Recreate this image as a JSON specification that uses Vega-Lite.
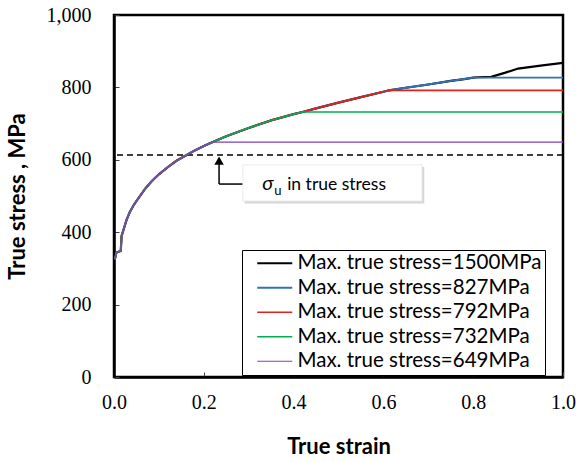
{
  "$schema": "https://vega.github.io/schema/vega-lite/v6.json",
  "width": 449,
  "height": 362,
  "autosize": {"type": "none"},
  "padding": {"left": 114, "top": 15, "right": 13, "bottom": 85},
  "background": "white",
  "datasets": {
    "curves": [
      {"series": "1500", "strain": 0.002, "stress": 325}, {"series": "1500", "strain": 0.005, "stress": 343}, {"series": "1500", "strain": 0.01, "stress": 346}, {"series": "1500", "strain": 0.015, "stress": 348}, {"series": "1500", "strain": 0.017, "stress": 390}, {"series": "1500", "strain": 0.022, "stress": 410}, {"series": "1500", "strain": 0.028, "stress": 434}, {"series": "1500", "strain": 0.035, "stress": 455}, {"series": "1500", "strain": 0.045, "stress": 477}, {"series": "1500", "strain": 0.055, "stress": 495}, {"series": "1500", "strain": 0.07, "stress": 521}, {"series": "1500", "strain": 0.085, "stress": 542}, {"series": "1500", "strain": 0.1, "stress": 560}, {"series": "1500", "strain": 0.12, "stress": 580}, {"series": "1500", "strain": 0.14, "stress": 598}, {"series": "1500", "strain": 0.16, "stress": 612}, {"series": "1500", "strain": 0.18, "stress": 626}, {"series": "1500", "strain": 0.2, "stress": 638}, {"series": "1500", "strain": 0.22, "stress": 649}, {"series": "1500", "strain": 0.25, "stress": 665}, {"series": "1500", "strain": 0.3, "stress": 688}, {"series": "1500", "strain": 0.35, "stress": 709}, {"series": "1500", "strain": 0.4, "stress": 726}, {"series": "1500", "strain": 0.42, "stress": 732}, {"series": "1500", "strain": 0.45, "stress": 742}, {"series": "1500", "strain": 0.5, "stress": 758}, {"series": "1500", "strain": 0.55, "stress": 773}, {"series": "1500", "strain": 0.6, "stress": 788}, {"series": "1500", "strain": 0.613, "stress": 792}, {"series": "1500", "strain": 0.65, "stress": 799}, {"series": "1500", "strain": 0.7, "stress": 808}, {"series": "1500", "strain": 0.75, "stress": 818}, {"series": "1500", "strain": 0.78, "stress": 823}, {"series": "1500", "strain": 0.8, "stress": 827}, {"series": "1500", "strain": 0.81, "stress": 828}, {"series": "1500", "strain": 0.84, "stress": 829}, {"series": "1500", "strain": 0.87, "stress": 840}, {"series": "1500", "strain": 0.9, "stress": 852}, {"series": "1500", "strain": 0.95, "stress": 860}, {"series": "1500", "strain": 1.0, "stress": 868},

      {"series": "827", "strain": 0.002, "stress": 325}, {"series": "827", "strain": 0.005, "stress": 343}, {"series": "827", "strain": 0.01, "stress": 346}, {"series": "827", "strain": 0.015, "stress": 348}, {"series": "827", "strain": 0.017, "stress": 390}, {"series": "827", "strain": 0.022, "stress": 410}, {"series": "827", "strain": 0.028, "stress": 434}, {"series": "827", "strain": 0.035, "stress": 455}, {"series": "827", "strain": 0.045, "stress": 477}, {"series": "827", "strain": 0.055, "stress": 495}, {"series": "827", "strain": 0.07, "stress": 521}, {"series": "827", "strain": 0.085, "stress": 542}, {"series": "827", "strain": 0.1, "stress": 560}, {"series": "827", "strain": 0.12, "stress": 580}, {"series": "827", "strain": 0.14, "stress": 598}, {"series": "827", "strain": 0.16, "stress": 612}, {"series": "827", "strain": 0.18, "stress": 626}, {"series": "827", "strain": 0.2, "stress": 638}, {"series": "827", "strain": 0.22, "stress": 649}, {"series": "827", "strain": 0.25, "stress": 665}, {"series": "827", "strain": 0.3, "stress": 688}, {"series": "827", "strain": 0.35, "stress": 709}, {"series": "827", "strain": 0.4, "stress": 726}, {"series": "827", "strain": 0.42, "stress": 732}, {"series": "827", "strain": 0.45, "stress": 742}, {"series": "827", "strain": 0.5, "stress": 758}, {"series": "827", "strain": 0.55, "stress": 773}, {"series": "827", "strain": 0.6, "stress": 788}, {"series": "827", "strain": 0.613, "stress": 792}, {"series": "827", "strain": 0.65, "stress": 799}, {"series": "827", "strain": 0.7, "stress": 808}, {"series": "827", "strain": 0.75, "stress": 818}, {"series": "827", "strain": 0.78, "stress": 823}, {"series": "827", "strain": 0.8, "stress": 827}, {"series": "827", "strain": 1.0, "stress": 827},

      {"series": "792", "strain": 0.002, "stress": 325}, {"series": "792", "strain": 0.005, "stress": 343}, {"series": "792", "strain": 0.01, "stress": 346}, {"series": "792", "strain": 0.015, "stress": 348}, {"series": "792", "strain": 0.017, "stress": 390}, {"series": "792", "strain": 0.022, "stress": 410}, {"series": "792", "strain": 0.028, "stress": 434}, {"series": "792", "strain": 0.035, "stress": 455}, {"series": "792", "strain": 0.045, "stress": 477}, {"series": "792", "strain": 0.055, "stress": 495}, {"series": "792", "strain": 0.07, "stress": 521}, {"series": "792", "strain": 0.085, "stress": 542}, {"series": "792", "strain": 0.1, "stress": 560}, {"series": "792", "strain": 0.12, "stress": 580}, {"series": "792", "strain": 0.14, "stress": 598}, {"series": "792", "strain": 0.16, "stress": 612}, {"series": "792", "strain": 0.18, "stress": 626}, {"series": "792", "strain": 0.2, "stress": 638}, {"series": "792", "strain": 0.22, "stress": 649}, {"series": "792", "strain": 0.25, "stress": 665}, {"series": "792", "strain": 0.3, "stress": 688}, {"series": "792", "strain": 0.35, "stress": 709}, {"series": "792", "strain": 0.4, "stress": 726}, {"series": "792", "strain": 0.42, "stress": 732}, {"series": "792", "strain": 0.45, "stress": 742}, {"series": "792", "strain": 0.5, "stress": 758}, {"series": "792", "strain": 0.55, "stress": 773}, {"series": "792", "strain": 0.6, "stress": 788}, {"series": "792", "strain": 0.613, "stress": 792}, {"series": "792", "strain": 1.0, "stress": 792},

      {"series": "732", "strain": 0.002, "stress": 325}, {"series": "732", "strain": 0.005, "stress": 343}, {"series": "732", "strain": 0.01, "stress": 346}, {"series": "732", "strain": 0.015, "stress": 348}, {"series": "732", "strain": 0.017, "stress": 390}, {"series": "732", "strain": 0.022, "stress": 410}, {"series": "732", "strain": 0.028, "stress": 434}, {"series": "732", "strain": 0.035, "stress": 455}, {"series": "732", "strain": 0.045, "stress": 477}, {"series": "732", "strain": 0.055, "stress": 495}, {"series": "732", "strain": 0.07, "stress": 521}, {"series": "732", "strain": 0.085, "stress": 542}, {"series": "732", "strain": 0.1, "stress": 560}, {"series": "732", "strain": 0.12, "stress": 580}, {"series": "732", "strain": 0.14, "stress": 598}, {"series": "732", "strain": 0.16, "stress": 612}, {"series": "732", "strain": 0.18, "stress": 626}, {"series": "732", "strain": 0.2, "stress": 638}, {"series": "732", "strain": 0.22, "stress": 649}, {"series": "732", "strain": 0.25, "stress": 665}, {"series": "732", "strain": 0.3, "stress": 688}, {"series": "732", "strain": 0.35, "stress": 709}, {"series": "732", "strain": 0.4, "stress": 726}, {"series": "732", "strain": 0.42, "stress": 732}, {"series": "732", "strain": 1.0, "stress": 732},

      {"series": "649", "strain": 0.002, "stress": 325}, {"series": "649", "strain": 0.005, "stress": 343}, {"series": "649", "strain": 0.01, "stress": 346}, {"series": "649", "strain": 0.015, "stress": 348}, {"series": "649", "strain": 0.017, "stress": 390}, {"series": "649", "strain": 0.022, "stress": 410}, {"series": "649", "strain": 0.028, "stress": 434}, {"series": "649", "strain": 0.035, "stress": 455}, {"series": "649", "strain": 0.045, "stress": 477}, {"series": "649", "strain": 0.055, "stress": 495}, {"series": "649", "strain": 0.07, "stress": 521}, {"series": "649", "strain": 0.085, "stress": 542}, {"series": "649", "strain": 0.1, "stress": 560}, {"series": "649", "strain": 0.12, "stress": 580}, {"series": "649", "strain": 0.14, "stress": 598}, {"series": "649", "strain": 0.16, "stress": 612}, {"series": "649", "strain": 0.18, "stress": 626}, {"series": "649", "strain": 0.2, "stress": 638}, {"series": "649", "strain": 0.22, "stress": 649}, {"series": "649", "strain": 1.0, "stress": 649}
    ],
    "uts": [{"stress": 613}],
    "arrowV": [{"strain": 0.234, "stress": 533, "stress2": 600}],
    "arrowH": [{"strain": 0.234, "strain2": 0.287, "stress": 533}],
    "arrowHead": [{"strain": 0.234, "stress": 598}],
    "box": [{"strain": 0.287, "strain2": 0.686, "stress": 486, "stress2": 586}],
    "shadow": [{"strain": 0.291, "strain2": 0.691, "stress": 479, "stress2": 580}],
    "note": [{"strain": 0.33, "stress": 517, "symbol": "σ", "sub": "u", "rest": "in true stress"}]
  },
  "layer": [
    {
      "data": {"name": "uts"},
      "mark": {"type": "rule", "color": "black", "strokeWidth": 1.5, "strokeDash": [6, 4]},
      "encoding": {"y": {"field": "stress", "type": "quantitative", "scale": {"domain": [0, 1000]}}}
    },
    {
      "data": {"name": "curves"},
      "mark": {"type": "line", "clip": true},
      "encoding": {
        "x": {
          "field": "strain", "type": "quantitative",
          "scale": {"domain": [0, 1], "nice": false},
          "axis": {"values": [0, 0.2, 0.4, 0.6, 0.8, 1.0], "format": ".1f", "title": "True strain", "titlePadding": 24, "labelPadding": 20}
        },
        "y": {
          "field": "stress", "type": "quantitative",
          "scale": {"domain": [0, 1000], "nice": false},
          "axis": {"values": [0, 200, 400, 600, 800, 1000], "format": ",.0f", "title": "True stress , MPa", "titlePadding": 17, "labelPadding": 28}
        },
        "color": {
          "field": "series", "type": "nominal",
          "scale": {"domain": ["1500", "827", "792", "732", "649"], "range": ["#000000", "#2E75B6", "#E3201B", "#00B050", "#7F3FBF"]},
          "legend": {
            "orient": "none", "legendX": 128, "legendY": 235, "title": null,
            "labelExpr": "'Max. true stress=' + datum.label + 'MPa\u2003\u2003'",
            "labelLimit": 400,
            "symbolType": "M-1,0H6", "symbolSize": 100, "symbolOffset": 7, "labelOffset": 25,
            "labelFont": "Lato", "labelFontSize": 20.5, "labelColor": "black",
            "strokeColor": "black", "fillColor": "white", "padding": 3, "rowPadding": 3.5
          }
        },
        "strokeWidth": {
          "field": "series", "type": "nominal",
          "scale": {"domain": ["1500", "827", "792", "732", "649"], "range": [2.2, 1.2, 1.2, 1.2, 1.2]},
          "legend": null
        }
      }
    },
    {
      "data": {"name": "arrowV"},
      "mark": {"type": "rule", "color": "black", "strokeWidth": 1.5},
      "encoding": {"x": {"field": "strain", "type": "quantitative"}, "y": {"field": "stress", "type": "quantitative"}, "y2": {"field": "stress2"}}
    },
    {
      "data": {"name": "arrowH"},
      "mark": {"type": "rule", "color": "black", "strokeWidth": 1.5},
      "encoding": {"x": {"field": "strain", "type": "quantitative"}, "x2": {"field": "strain2"}, "y": {"field": "stress", "type": "quantitative"}}
    },
    {
      "data": {"name": "arrowHead"},
      "mark": {"type": "point", "shape": "triangle-up", "filled": true, "color": "black", "size": 90, "opacity": 1},
      "encoding": {"x": {"field": "strain", "type": "quantitative"}, "y": {"field": "stress", "type": "quantitative"}}
    },
    {
      "data": {"name": "shadow"},
      "mark": {"type": "rect", "color": "#bdbdbd", "opacity": 0.6},
      "encoding": {"x": {"field": "strain", "type": "quantitative"}, "x2": {"field": "strain2"}, "y": {"field": "stress", "type": "quantitative"}, "y2": {"field": "stress2"}}
    },
    {
      "data": {"name": "box"},
      "mark": {"type": "rect", "fill": "white", "stroke": "#e6e6e6", "strokeWidth": 0.8},
      "encoding": {"x": {"field": "strain", "type": "quantitative"}, "x2": {"field": "strain2"}, "y": {"field": "stress", "type": "quantitative"}, "y2": {"field": "stress2"}}
    },
    {
      "data": {"name": "note"},
      "mark": {"type": "text", "font": "Lato", "fontStyle": "italic", "fontSize": 20, "align": "left", "baseline": "alphabetic", "color": "black"},
      "encoding": {"x": {"field": "strain", "type": "quantitative"}, "y": {"field": "stress", "type": "quantitative"}, "text": {"field": "symbol"}}
    },
    {
      "data": {"name": "note"},
      "mark": {"type": "text", "font": "Lato", "fontSize": 13, "align": "left", "baseline": "alphabetic", "color": "black", "dx": 12, "dy": 5},
      "encoding": {"x": {"field": "strain", "type": "quantitative"}, "y": {"field": "stress", "type": "quantitative"}, "text": {"field": "sub"}}
    },
    {
      "data": {"name": "note"},
      "mark": {"type": "text", "font": "Lato", "fontSize": 17.5, "align": "left", "baseline": "alphabetic", "color": "black", "dx": 25},
      "encoding": {"x": {"field": "strain", "type": "quantitative"}, "y": {"field": "stress", "type": "quantitative"}, "text": {"field": "rest"}}
    }
  ],
  "config": {
    "view": {"stroke": "black", "strokeWidth": 2.5},
    "axis": {
      "grid": false, "labelFlush": false,
      "domainColor": "black", "domainWidth": 2.5,
      "tickColor": "#444", "tickWidth": 1, "tickSize": -5,
      "labelFont": "Liberation Serif", "labelFontSize": 20, "labelColor": "black",
      "titleFont": "Lato", "titleFontWeight": "bold", "titleFontSize": 22, "titleColor": "black"
    }
  }
}
